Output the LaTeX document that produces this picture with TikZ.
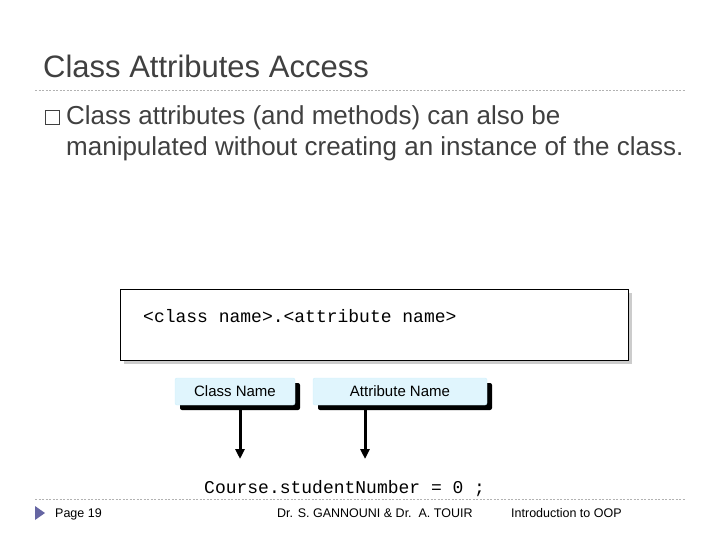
\documentclass[tikz,border=0pt]{standalone}
\usepackage{fontspec}
\setmainfont{Liberation Sans}
\setmonofont{Liberation Mono}
\usetikzlibrary{arrows.meta}
\begin{document}
\begin{tikzpicture}[x=1pt,y=-1pt,
  rule/.style={gray!60,dashed,dash pattern=on 2pt off 1.5pt},
  tag/.style={fill=cyan!12,draw=cyan!20,rounded corners=2pt,minimum height=27pt,font=\fontsize{15}{17}\selectfont,inner sep=0pt},
  pointer/.style={line width=3pt,-{Triangle[length=10pt,width=9pt]}}]
  \colorlet{slidetext}{black!75}
  \useasboundingbox (0,0) rectangle (720,540);

  \node[anchor=base west,text=slidetext,font=\fontsize{31}{34}\selectfont,inner sep=0pt] (title) at (43,78) {Class Attributes Access};
  \draw[rule] (35,90) -- (685,90);

  \draw[slidetext,line width=0.6pt] (45,110) rectangle (59,124);
  \node[anchor=base west,text=slidetext,font=\fontsize{26}{30}\selectfont,inner sep=0pt] (point) at (66,125)
    {Class attributes (and methods) can also be};
  \node[anchor=base west,text=slidetext,font=\fontsize{26}{30}\selectfont,inner sep=0pt] (pointcont) at (66,156)
    {manipulated without creating an instance of the class.};

  % syntax box
  \fill[black!20] (124,293) rectangle (632,364);
  \draw[fill=white,thick] (120,289) rectangle (628,360);
  \node[anchor=base west,font=\ttfamily\fontsize{18}{20}\selectfont,inner sep=0pt] (syntax) at (143,322) {<class name>.<attribute name>};

  % labels
  \fill[black,rounded corners=2pt] (180,383) rectangle (300,410);
  \node[tag,minimum width=120pt] (cls) at (235,391.5) {Class Name};
  \fill[black,rounded corners=2pt] (318,383) rectangle (492,410);
  \node[tag,minimum width=174pt] (attr) at (400,391.5) {Attribute Name};

  \node[anchor=base west,font=\ttfamily\fontsize{18}{20}\selectfont,inner sep=0pt] (code) at (204,493) {Course.studentNumber = 0 ;};
  \coordinate (clsend) at (240,459);
  \coordinate (attrend) at (365,459);
  \draw[pointer] (240,410) -- (clsend);
  \draw[pointer] (365,410) -- (attrend);

  \draw[rule] (35,499) -- (685,499);
  \fill[black!60!blue!60] (35,506) -- (45,513) -- (35,520) -- cycle;
  \node[anchor=base west,font=\fontsize{12.5}{14}\selectfont,inner sep=0pt] (page) at (55,517) {Page 19};
  \node[anchor=base west,font=\fontsize{12.5}{14}\selectfont,inner sep=0pt] (authors) at (277,517) {Dr. S. GANNOUNI \& Dr.\ \ A. TOUIR};
  \node[anchor=base west,font=\fontsize{12.5}{14}\selectfont,inner sep=0pt] (course) at (511,517) {Introduction to OOP};
\end{tikzpicture}
\end{document}
